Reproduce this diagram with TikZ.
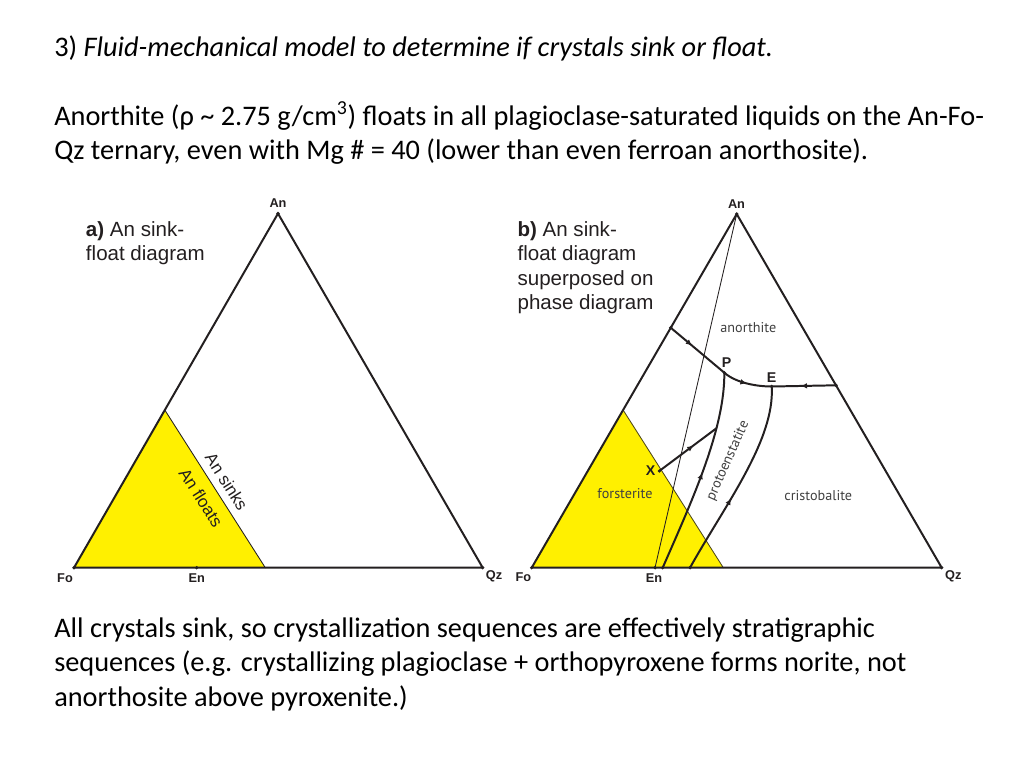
\documentclass[tikz,border=0pt]{standalone}
\usepackage{fontspec}
\setmainfont{Carlito}
\newfontfamily\arialfont{Liberation Sans}
\newfontfamily\phasefont{PT Sans}
\usetikzlibrary{positioning,decorations.markings,arrows.meta}
\definecolor{anyellow}{RGB}{255,240,0}
\definecolor{inkgrey}{RGB}{35,31,32}
\definecolor{phasegrey}{RGB}{64,64,64}

\begin{document}
\begin{tikzpicture}[x=0.0248047cm, y=-0.0248047cm, line cap=round, line join=round,
  body/.style={font=\fontsize{20}{24}\selectfont, anchor=base west, inner sep=0pt},
  capt/.style={font=\arialfont\fontsize{14.5}{17}\selectfont, text=inkgrey, anchor=base west, inner sep=0pt},
  vlab/.style={font=\arialfont\bfseries\fontsize{9}{10}\selectfont, text=inkgrey, inner sep=0pt},
  phase/.style={font=\phasefont\fontsize{10}{12}\selectfont, text=phasegrey, inner sep=0pt},
  tri/.style={draw=inkgrey, line width=1.4pt},
  bnd/.style={draw=inkgrey, line width=1.4pt},
  flow/.style={postaction={decorate}, decoration={markings,
    mark=at position #1 with {\arrow{Latex[length=4.5pt,width=4pt]}}}},
  flow/.default=0.5]

\useasboundingbox[fill=white] (0,0) rectangle (1024,768);

% slide text
\node[body] (title) at (54,56.7) {3) \textit{Fluid-mechanical model to determine if crystals sink or float.}};
\node[body] (top1) at (54,125) {Anorthite (ρ \textasciitilde{} 2.75 g/cm\textsuperscript{3}) floats in all plagioclase-saturated liquids on the An-Fo-};
\node[body] (top2) at (54,159.3) {Qz ternary, even with Mg \# = 40 (lower than even ferroan anorthosite).};
\node[body] (bot1) at (54,637.3) {All crystals sink, so crystallization sequences are effectively stratigraphic};
\node[body] (bot2) at (54,671.7) {sequences (e.g. crystallizing plagioclase + orthopyroxene forms norite, not};
\node[body] (bot3) at (54,706) {anorthosite above pyroxenite.)};

% a) sink-float diagram
\coordinate (aFo) at (74,567.7);
\coordinate (aAn) at (278,213.5);
\coordinate (aQz) at (482.7,567.7);
\coordinate (aEn) at (196.7,567.7);
\coordinate (aY) at (164.8,410);
\coordinate (aZ) at (265.3,567.7);

\fill[anyellow] (aFo) -- (aY) -- (aZ) -- cycle;
\draw[inkgrey, line width=0.6pt] (aY) -- (aZ)
    node[pos=0.5, sloped, above=5pt, font=\arialfont\fontsize{12}{14}\selectfont, inner sep=0pt] (sinks) {An sinks}
    node[pos=0.5, sloped, below=7pt, font=\arialfont\fontsize{12}{14}\selectfont, inner sep=0pt] (floats) {An floats};
\draw[tri] (aFo) -- (aAn) -- (aQz) -- cycle;

\node[capt] (capa1) at (85.7,236.7) {\textbf{a)} An sink-};
\node[capt] (capa2) at (85.7,260.7) {float diagram};

\node[vlab] (laAn) at (278,203.5) {An};
\node[vlab] (laFo) at (65,577.7) {Fo};
\node[vlab] (laEn) at (196.7,578.3) {En};
\node[vlab] (laQz) at (494,576.7) {Qz};

% b) superposed on phase diagram
\coordinate (bFo) at (531.7,567.7);
\coordinate (bAn) at (736.7,214);
\coordinate (bQz) at (941.7,567.7);
\coordinate (bEn) at (655,567.7);
\coordinate (bY) at (623.1,410);
\coordinate (bZ) at (723.3,567.7);
\coordinate (L) at (670.7,327.7);
\coordinate (R) at (836,385.3);
\coordinate (P) at (724.3,372.7);
\coordinate (E) at (771.7,386.5);
\coordinate (X) at (659.3,471);
\coordinate (B1) at (662.7,567.7);
\coordinate (B2) at (690,567.7);

\fill[anyellow] (bFo) -- (bY) -- (bZ) -- cycle;
\draw[inkgrey!80!anyellow, line width=0.6pt] (bY) -- (bZ);
\draw[inkgrey, line width=0.6pt] (bAn) -- (bEn);
\draw[tri] (bFo) -- (bAn) -- (bQz) -- cycle;

\draw[bnd, flow=0.4] (L) -- (P);
\draw[bnd, flow=0.5] (P) .. controls (736,383) and (757,386.5) .. (E);
\draw[bnd, flow=0.55] (R) -- (E);
\draw[bnd, flow=0.5] (B1) .. controls (690,505) and (725,430) .. (P) coordinate[pos=0.7] (Q);
\draw[bnd, flow=0.4] (B2) .. controls (725,505) and (775,440) .. (E);
\draw[bnd, flow=0.6] (X) -- (Q);

\foreach \p in {aFo,aAn,aQz,aEn,bFo,bAn,bQz,bEn,L,R,P,E,X,B1,B2} {
    \fill[inkgrey] (\p) circle[radius=1.8];
}

\node[capt] (capb1) at (517.3,236.7) {\textbf{b)} An sink-};
\node[capt] (capb2) at (517.3,260.7) {float diagram};
\node[capt] (capb3) at (517.3,285) {superposed on};
\node[capt] (capb4) at (517.3,309) {phase diagram};

\node[vlab] (lbAn) at (736.5,203.7) {An};
\node[vlab] (lbFo) at (523.3,576.7) {Fo};
\node[vlab] (lbEn) at (654,577.7) {En};
\node[vlab] (lbQz) at (953.3,576.7) {Qz};
\node[vlab, font=\arialfont\bfseries\fontsize{10}{12}\selectfont] (lP) at (726.7,362.7) {P};
\node[vlab, font=\arialfont\bfseries\fontsize{10}{12}\selectfont] (lE) at (771.7,377.7) {E};
\node[vlab, font=\arialfont\bfseries\fontsize{10}{12}\selectfont] (lX) at (650.7,471) {X};

\node[phase] (anorthite) at (748.3,327.7) {anorthite};
\node[phase] (forsterite) at (625,493.3) {forsterite};
\node[phase] (cristobalite) at (818.3,496) {cristobalite};
\node[phase, rotate=66] (protoen) at (728,460.8) {protoenstatite};

\end{tikzpicture}
\end{document}
